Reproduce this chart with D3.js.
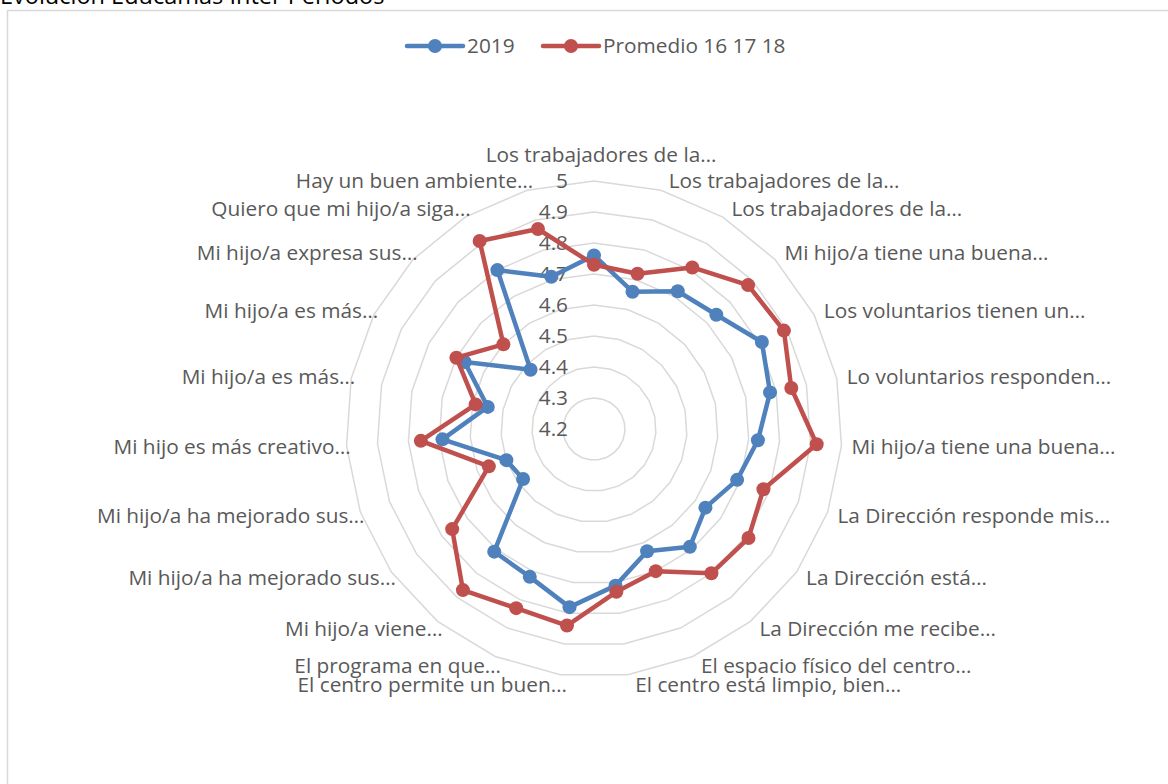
<!DOCTYPE html>
<html>
<head>
<meta charset="utf-8">
<script src="https://cdn.jsdelivr.net/npm/d3@7"></script>
<style>
  body { margin: 0; background: #fff; }
  svg text { font-family: "Open Sans", sans-serif; fill: #595959; }
</style>
</head>
<body>
<svg></svg>
<script>
var w = 1168,
    h = 784;

// categories clockwise starting at 12 o'clock
var categories = [
  "Los trabajadores de la…",
  "Los trabajadores de la…",
  "Los trabajadores de la…",
  "Mi hijo/a tiene una buena…",
  "Los voluntarios tienen un…",
  "Lo voluntarios responden…",
  "Mi hijo/a tiene una buena…",
  "La Dirección responde mis…",
  "La Dirección está…",
  "La Dirección me recibe…",
  "El espacio físico del centro…",
  "El centro está limpio, bien…",
  "El centro permite un buen…",
  "El programa en que…",
  "Mi hijo/a viene…",
  "Mi hijo/a ha mejorado sus…",
  "Mi hijo/a ha mejorado sus…",
  "Mi hijo es más creativo…",
  "Mi hijo/a es más…",
  "Mi hijo/a es más…",
  "Mi hijo/a expresa sus…",
  "Quiero que mi hijo/a siga…",
  "Hay un buen ambiente…"
];

var serie2019 = [4.76, 4.66, 4.72, 4.74, 4.81, 4.78, 4.73, 4.69, 4.64, 4.69, 4.63, 4.71,
                 4.78, 4.72, 4.71, 4.48, 4.50, 4.69, 4.55, 4.67, 4.48, 4.80, 4.71];
var seriePromedio = [4.73, 4.72, 4.81, 4.88, 4.89, 4.85, 4.92, 4.78, 4.81, 4.80, 4.70, 4.73,
                     4.84, 4.83, 4.87, 4.76, 4.56, 4.76, 4.59, 4.70, 4.60, 4.91, 4.87];

var seriesNames = ["2019", "Promedio 16 17 18"];
var seriesColors = ["#4f81bd", "#c0504d"];
var valueDomain = [4.2, 5];

var title = "Evolución Educamas Inter Periodos";

var cx = 594, cy = 429, R = 248;
var fontSize = "20.8px";

var svg = d3.select("svg")
  .attr("width", w)
  .attr("height", h);

// chart area border (cut at right/bottom like the screenshot)
svg.append("rect")
  .attr("x", 7.5)
  .attr("y", 10.5)
  .attr("width", w + 20)
  .attr("height", h + 20)
  .attr("fill", "none")
  .attr("stroke", "#d9d9d9")
  .attr("stroke-width", 1.5);

svg.append("text")
  .attr("x", 0)
  .attr("y", 4)
  .style("font-size", "23.5px")
  .style("fill", "#000")
  .text(title);

var rScale = d3.scaleLinear().domain(valueDomain).range([0, R]);
var aScale = d3.scaleLinear().domain([0, categories.length]).range([0, 2 * Math.PI]);

var g = svg.append("g")
  .attr("transform", "translate(" + cx + "," + cy + ")");

// grid rings
var ticks = rScale.ticks(8);
var ringLine = d3.lineRadial()
  .angle(function(d, i) { return aScale(i); })
  .radius(function(d) { return rScale(d); })
  .curve(d3.curveLinearClosed);

g.selectAll(".ring")
  .data(ticks.filter(function(t) { return t > valueDomain[0]; }))
  .enter()
  .append("path")
  .attr("class", "ring")
  .attr("d", function(t) { return ringLine(categories.map(function() { return t; })); })
  .attr("fill", "none")
  .attr("stroke", "#d9d9d9")
  .attr("stroke-width", 1.5);

// value axis labels
var fmt = d3.format(".1~f");
g.selectAll(".tick-label")
  .data(ticks)
  .enter()
  .append("text")
  .attr("class", "tick-label")
  .attr("x", -26)
  .attr("y", function(t) { return -rScale(t); })
  .attr("dy", "0.35em")
  .attr("text-anchor", "end")
  .style("font-size", fontSize)
  .text(fmt);

// category labels
var rx = 251, ry = 258, labelShift = 7;
g.selectAll(".cat-label")
  .data(categories)
  .enter()
  .append("text")
  .attr("class", "cat-label")
  .each(function(d, i) {
    var a = aScale(i), s = Math.sin(a), c = Math.cos(a);
    var anchor = s > 0.1 ? "start" : (s < -0.1 ? "end" : "middle");
    var y = -ry * c;
    if (anchor === "middle") y -= 16 * c;
    d3.select(this)
      .attr("x", labelShift + rx * s)
      .attr("y", y)
      .attr("dy", "0.35em")
      .attr("text-anchor", anchor);
  })
  .style("font-size", fontSize)
  .text(function(d) { return d; });

// series
var seriesData = [serie2019, seriePromedio];
var valueLine = d3.lineRadial()
  .angle(function(d, i) { return aScale(i); })
  .radius(function(d) { return rScale(d); })
  .curve(d3.curveLinearClosed);

seriesData.forEach(function(vals, k) {
  var sg = g.append("g").attr("class", "series");
  sg.append("path")
    .attr("d", valueLine(vals))
    .attr("fill", "none")
    .attr("stroke", seriesColors[k])
    .attr("stroke-width", 4.5)
    .attr("stroke-linejoin", "round");
  sg.selectAll("circle")
    .data(vals)
    .enter()
    .append("circle")
    .attr("cx", function(d, i) { return rScale(d) * Math.sin(aScale(i)); })
    .attr("cy", function(d, i) { return -rScale(d) * Math.cos(aScale(i)); })
    .attr("r", 7)
    .attr("fill", seriesColors[k]);
});

// legend
var legendX = [407, 543];
var legend = svg.selectAll(".legend")
  .data(seriesNames)
  .enter()
  .append("g")
  .attr("class", "legend")
  .attr("transform", function(d, i) { return "translate(" + legendX[i] + ",46)"; });

legend.append("line")
  .attr("x1", 0).attr("x2", 56)
  .attr("stroke", function(d, i) { return seriesColors[i]; })
  .attr("stroke-width", 4.5)
  .attr("stroke-linecap", "round");
legend.append("circle")
  .attr("cx", 28)
  .attr("r", 7)
  .attr("fill", function(d, i) { return seriesColors[i]; });
legend.append("text")
  .attr("x", 60)
  .attr("dy", "0.35em")
  .style("font-size", fontSize)
  .text(function(d) { return d; });
</script>
</body>
</html>
